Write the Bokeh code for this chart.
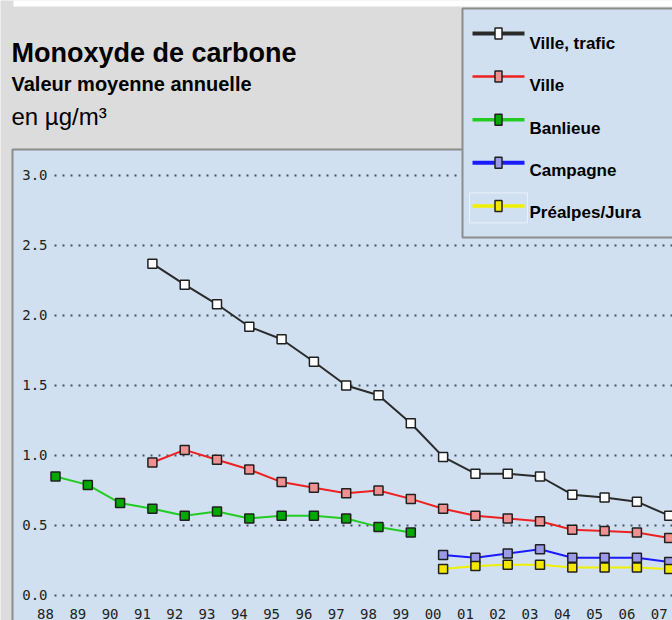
from bokeh.plotting import figure
from bokeh.models import Range1d
from bokeh.core.properties import value
from bokeh.embed import file_html
from bokeh.resources import INLINE

# ---------------- data ----------------
years = list(range(1988, 2008))
year_labels = ["88", "89", "90", "91", "92", "93", "94", "95", "96", "97",
               "98", "99", "00", "01", "02", "03", "04", "05", "06", "07"]

ville_trafic_years = list(range(1991, 2008))
ville_trafic = [2.37, 2.22, 2.08, 1.92, 1.83, 1.67, 1.50, 1.43, 1.23,
                0.99, 0.87, 0.87, 0.85, 0.72, 0.70, 0.67, 0.57]

ville_years = list(range(1991, 2008))
ville = [0.95, 1.04, 0.97, 0.90, 0.81, 0.77, 0.73, 0.75, 0.69,
         0.62, 0.57, 0.55, 0.53, 0.47, 0.46, 0.45, 0.41]

banlieue_years = list(range(1988, 2000))
banlieue = [0.85, 0.79, 0.66, 0.62, 0.57, 0.60, 0.55, 0.57, 0.57, 0.55, 0.49, 0.45]

campagne_years = list(range(2000, 2008))
campagne = [0.29, 0.27, 0.30, 0.33, 0.27, 0.27, 0.27, 0.24]

prealpes_years = list(range(2000, 2008))
prealpes = [0.19, 0.21, 0.22, 0.22, 0.20, 0.20, 0.20, 0.19]

y_ticks = [0.0, 0.5, 1.0, 1.5, 2.0, 2.5, 3.0]
y_tick_labels = ["0.0", "0.5", "1.0", "1.5", "2.0", "2.5", "3.0"]

series_names = ["Ville, trafic", "Ville", "Banlieue", "Campagne", "Préalpes/Jura"]
series_x = [ville_trafic_years, ville_years, banlieue_years, campagne_years, prealpes_years]
series_y = [ville_trafic, ville, banlieue, campagne, prealpes]

# ---------------- styles ----------------
line_colors = ["#2a2a2a", "#ee2020", "#22cc22", "#1a1aff", "#f0f000"]
marker_fills = ["#ffffff", "#f09090", "#00a800", "#9a9ae8", "#f5e800"]
legend_line_widths = [4, 2.5, 3.5, 4, 3.5]
GREY = "#dcdcdc"
BLUE = "#d0e0f0"
BORDER = "#8c8c8c"
SANS = value("Liberation Sans")
MONO = value("DejaVu Sans Mono")

W, H = 672, 620
p = figure(width=W, height=H, output_backend="svg", toolbar_location=None,
           x_axis_type=None, y_axis_type=None,
           x_range=Range1d(1986.297, 2007.102), y_range=Range1d(-0.1786, 4.25),
           min_border=0, background_fill_color=GREY, border_fill_color=GREY,
           outline_line_color=None)
# page-pixel coordinate system for layout pieces
p.extra_x_ranges = {"px": Range1d(0, 672)}
p.extra_y_ranges = {"px": Range1d(620, 0)}
PX = dict(x_range_name="px", y_range_name="px")

# white strip at the very top
p.quad(left=[13], right=[700], top=[-5], bottom=[6], fill_color="#ffffff",
       line_color=None, **PX)

# plot panel
p.quad(left=[12], right=[700], top=[149], bottom=[700], fill_color=BLUE,
       line_color=BORDER, line_width=2, **PX)

# dotted grid lines (x in pixels, y in data)
p.segment(x0=54, x1=672, y0=y_ticks, y1=y_ticks, line_color="#40506a",
          line_width=2, line_dash="2 6", x_range_name="px")

# y tick labels
p.text(x=47, y=y_ticks, text=y_tick_labels, text_align="right", text_baseline="middle",
       text_font=MONO, text_font_size="14px", text_color="#222222", x_range_name="px")

# x tick labels
p.text(x=years, y=[613] * len(years), text=year_labels, text_align="center",
       text_baseline="middle", x_offset=-10, text_font=MONO, text_font_size="14px",
       text_color="#222222", y_range_name="px")

# series
for xs, ys, lc in zip(series_x, series_y, line_colors):
    p.line(xs, ys, line_color=lc, line_width=2)
for xs, ys, mf in zip(series_x, series_y, marker_fills):
    p.scatter(xs, ys, marker="square", size=9, fill_color=mf, line_color="#202020",
              line_width=1.5)

# legend box
p.quad(left=[462], right=[700], top=[8], bottom=[237], fill_color=BLUE,
       line_color=BORDER, line_width=2, **PX)
rows = [33 + 43.1 * i for i in range(len(series_names))]
label_rows = [43 + 42.3 * i for i in range(len(series_names))]
p.quad(left=[469], right=[527], top=[rows[4] - 13], bottom=[rows[4] + 17],
       fill_color=None, line_color="#e8f0fa", line_width=1, **PX)
p.segment(x0=472, x1=524, y0=rows, y1=rows, line_color=line_colors,
          line_width=legend_line_widths, **PX)
p.rect(x=498, y=rows, width=7, height=11, fill_color=marker_fills,
       line_color="#202020", line_width=1.5, **PX)
p.text(x=529, y=label_rows, text=series_names, text_align="left",
       text_baseline="alphabetic", text_font=SANS, text_font_style="bold",
       text_font_size="17px", text_color="#000000", **PX)

# titles
p.text(x=[11], y=[52], text=["Monoxyde de carbone"], text_font=SANS,
       text_font_style="bold", text_font_size="27px", text_baseline="alphabetic",
       text_color="#000000", **PX)
p.text(x=[11], y=[83], text=["Valeur moyenne annuelle"], text_font=SANS,
       text_font_style="bold", text_font_size="20px", text_baseline="alphabetic",
       text_color="#000000", **PX)
p.text(x=[11], y=[116], text=["en µg/m³"], text_font=SANS,
       text_font_size="24px", text_baseline="alphabetic", text_color="#000000", **PX)

open("out.html", "w").write(file_html(p, INLINE))
